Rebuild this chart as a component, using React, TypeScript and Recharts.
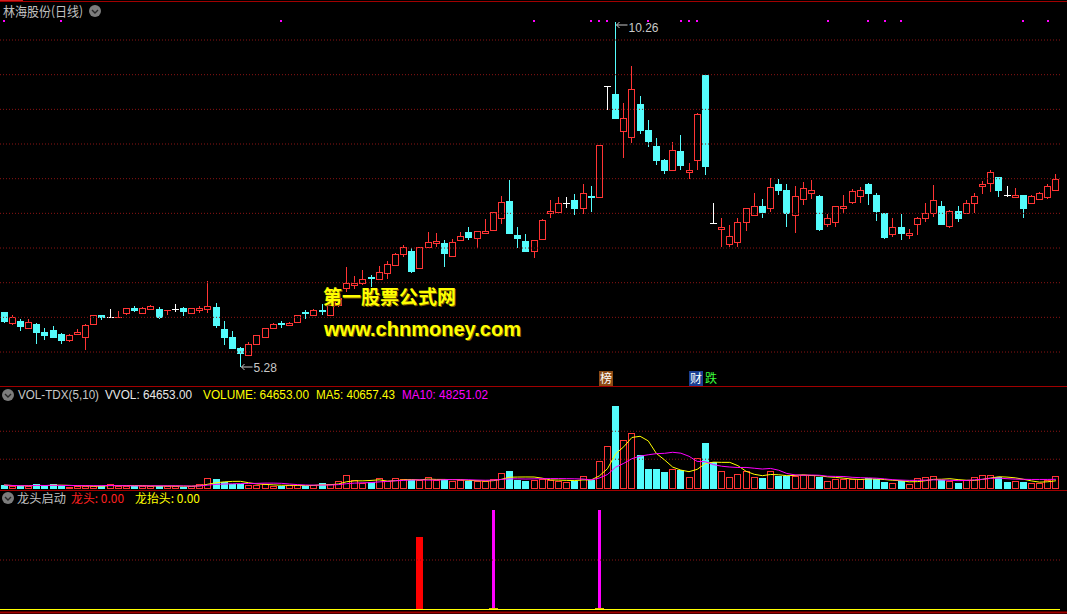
import React from "react";
import { ComposedChart, Bar, Line, XAxis, YAxis, ReferenceLine } from "recharts";

// 林海股份 日线: [open, high, low, close]
const OHLC: [number, number, number, number][] = [
  [6.08, 6.08, 5.92, 5.95], [5.92, 6.04, 5.89, 6.0], [5.95, 5.98, 5.81, 5.88], [5.84, 5.97, 5.83, 5.94],
  [5.91, 5.92, 5.61, 5.79], [5.79, 5.85, 5.68, 5.74], [5.82, 5.88, 5.71, 5.72], [5.76, 5.77, 5.62, 5.68],
  [5.68, 5.76, 5.65, 5.75], [5.76, 5.83, 5.75, 5.79], [5.72, 5.91, 5.53, 5.89], [5.91, 6.03, 5.91, 6.03],
  [6.03, 6.04, 5.96, 6.01], [6.01, 6.12, 6.01, 6.01], [6.0, 6.09, 6.0, 6.01], [6.07, 6.13, 6.04, 6.13],
  [6.14, 6.16, 6.08, 6.1], [6.07, 6.15, 6.07, 6.14], [6.12, 6.18, 6.11, 6.16], [6.12, 6.15, 5.97, 6.01],
  [6.1, 6.11, 6.04, 6.11], [6.12, 6.19, 6.08, 6.12], [6.13, 6.15, 6.02, 6.09], [6.07, 6.13, 6.07, 6.13],
  [6.1, 6.16, 6.07, 6.13], [6.12, 6.52, 6.07, 6.17], [6.15, 6.2, 5.85, 5.89], [5.83, 5.95, 5.6, 5.72],
  [5.72, 5.8, 5.54, 5.56], [5.56, 5.57, 5.28, 5.49], [5.45, 5.64, 5.45, 5.62], [5.62, 5.74, 5.6, 5.74],
  [5.71, 5.84, 5.71, 5.84], [5.84, 5.92, 5.84, 5.9], [5.92, 5.95, 5.85, 5.91], [5.89, 5.94, 5.88, 5.92],
  [5.94, 6.04, 5.94, 6.04], [6.08, 6.11, 5.98, 6.06], [6.04, 6.12, 6.02, 6.11], [6.11, 6.19, 6.04, 6.09],
  [6.04, 6.18, 6.04, 6.18], [6.18, 6.32, 6.15, 6.28], [6.42, 6.72, 6.37, 6.49], [6.46, 6.6, 6.41, 6.49],
  [6.49, 6.68, 6.47, 6.56], [6.58, 6.61, 6.44, 6.57], [6.56, 6.74, 6.54, 6.66], [6.64, 6.81, 6.56, 6.77],
  [6.75, 6.93, 6.74, 6.92], [6.92, 7.04, 6.87, 7.01], [6.96, 7.0, 6.64, 6.67], [6.71, 7.02, 6.7, 7.01],
  [7.02, 7.23, 7.01, 7.08], [7.07, 7.22, 7.02, 7.1], [7.07, 7.11, 6.72, 6.93], [6.89, 7.13, 6.88, 7.08],
  [7.11, 7.23, 7.1, 7.18], [7.23, 7.3, 7.12, 7.16], [7.15, 7.25, 7.0, 7.25], [7.22, 7.42, 7.2, 7.25],
  [7.26, 7.52, 7.25, 7.52], [7.44, 7.75, 7.34, 7.67], [7.68, 7.98, 7.2, 7.22], [7.19, 7.3, 7.0, 7.15],
  [7.1, 7.2, 6.95, 6.96], [6.95, 7.12, 6.85, 7.11], [7.13, 7.42, 7.13, 7.41], [7.51, 7.69, 7.44, 7.54],
  [7.52, 7.73, 7.52, 7.65], [7.65, 7.73, 7.58, 7.65], [7.69, 7.78, 7.47, 7.58], [7.57, 7.92, 7.49, 7.8],
  [7.75, 7.89, 7.52, 7.73], [7.74, 8.48, 7.73, 8.48], [9.33, 9.33, 8.99, 9.33], [9.22, 10.26, 8.87, 8.88],
  [8.69, 9.09, 8.3, 8.87], [8.6, 9.63, 8.52, 9.29], [9.08, 9.19, 8.64, 8.7], [8.7, 8.85, 8.45, 8.55],
  [8.47, 8.59, 8.2, 8.27], [8.27, 8.28, 8.07, 8.13], [8.12, 8.53, 8.11, 8.41], [8.4, 8.63, 8.13, 8.2],
  [8.09, 8.22, 8.0, 8.12], [8.27, 8.95, 8.13, 8.94], [9.5, 9.5, 8.05, 8.19], [7.36, 7.65, 7.36, 7.36],
  [7.28, 7.43, 7.02, 7.31], [7.06, 7.33, 7.01, 7.17], [7.08, 7.43, 7.01, 7.37], [7.37, 7.58, 7.24, 7.57],
  [7.48, 7.79, 7.47, 7.6], [7.6, 7.7, 7.43, 7.52], [7.58, 8.01, 7.52, 7.88], [7.93, 7.99, 7.77, 7.84],
  [7.83, 7.92, 7.31, 7.51], [7.47, 7.9, 7.22, 7.75], [7.7, 7.95, 7.62, 7.86], [7.8, 7.98, 7.7, 7.83],
  [7.75, 7.76, 7.25, 7.28], [7.34, 7.49, 7.3, 7.44], [7.38, 7.61, 7.3, 7.6], [7.57, 7.76, 7.51, 7.6],
  [7.67, 7.85, 7.63, 7.82], [7.75, 7.88, 7.65, 7.83], [7.93, 7.94, 7.62, 7.8], [7.76, 7.79, 7.39, 7.54],
  [7.5, 7.51, 7.13, 7.16], [7.2, 7.43, 7.16, 7.3], [7.3, 7.49, 7.12, 7.22], [7.19, 7.28, 7.13, 7.22],
  [7.34, 7.45, 7.19, 7.44], [7.44, 7.65, 7.38, 7.5], [7.5, 7.91, 7.45, 7.69], [7.6, 7.68, 7.34, 7.35],
  [7.32, 7.55, 7.29, 7.54], [7.54, 7.61, 7.38, 7.44], [7.5, 7.69, 7.49, 7.65], [7.65, 7.79, 7.5, 7.75],
  [7.89, 7.96, 7.78, 7.93], [7.94, 8.12, 7.81, 8.09], [8.02, 8.03, 7.73, 7.83], [7.76, 7.89, 7.74, 7.76],
  [7.73, 7.86, 7.72, 7.76], [7.76, 7.77, 7.44, 7.58], [7.65, 7.77, 7.64, 7.75], [7.7, 7.81, 7.69, 7.79],
  [7.73, 7.92, 7.7, 7.89], [7.83, 8.07, 7.82, 7.99],
];

const VOLUME = [
  19900, 14900, 14900, 14900, 24900, 14900, 24900, 14900, 11400, 14900,
  14900, 14900, 14900, 24900, 14900, 14900, 14900, 14900, 14900, 14900,
  14900, 14900, 9900, 14900, 24900, 54700, 49700, 33300, 26400, 26400,
  19900, 19900, 22400, 14900, 14900, 19900, 19900, 14900, 19900, 28400,
  23400, 38300, 69600, 43300, 28400, 33300, 53200, 38300, 53200, 48200,
  43300, 43300, 58200, 44800, 48200, 38300, 43300, 38300, 38300, 38300,
  48200, 78100, 89500, 43300, 39800, 47200, 49700, 46300, 38300, 33300,
  41300, 66100, 46300, 137800, 212400, 411300, 242200, 277000, 167600, 98000,
  98000, 83100, 98000, 93000, 58200, 155700, 227300, 132800, 88000, 58200,
  73100, 88000, 58200, 53200, 88000, 66100, 66100, 63700, 69600, 69600,
  59700, 39800, 49700, 49700, 48200, 48200, 53200, 49700, 34800, 29800,
  39800, 24900, 53200, 58200, 63200, 43300, 38300, 29800, 43300, 58200,
  70000, 72000, 61200, 34800, 39800, 35000, 30000, 29800, 44800, 64653,
];

// magenta signal dots along the top
const DOT_SIGNALS = [0, 7, 34, 65, 72, 73, 74, 79, 83, 84, 85, 101, 106, 108, 110, 125, 128];
const FLAGS = [
  { i: 73, marks: ["榜"] },
  { i: 84, marks: ["财", "跌"] },
];
// 龙头启动 indicator
const LONGTOU = [{ i: 51, v: 0.73 }];
const TAITOU = [{ i: 60, v: 1 }, { i: 73, v: 1 }];

const PRICE_TICKS = [5.5, 6, 6.5, 7, 7.5, 8, 8.5, 9, 9.5, 10];
const VOL_TICKS = [148000, 287000];
const IND_TICKS = [0.5];

const RED = "#ff3434";
const CYAN = "#54fcfc";
const GRID = "#8c1414";
const LINE = "#a00000";
const CJK = '"Noto Sans CJK SC", sans-serif';
const LAT = '"Liberation Sans", Arial, sans-serif';
const DOT_LEVEL = 10.28;
const FLAG_LEVEL = 5.125;
const FLAG_STYLE: Record<string, { bg: string; fg: string }> = {
  榜: { bg: "#8c4a14", fg: "#ffffff" },
  财: { bg: "#1b3f92", fg: "#ffffff" },
  跌: { bg: "#000000", fg: "#3cff3c" },
};

const avg = (arr: number[], i: number, n: number) => {
  const s = Math.max(0, i - n + 1);
  let t = 0;
  for (let k = s; k <= i; k++) t += arr[k];
  return t / (i - s + 1);
};

const MAX_H = Math.max(...OHLC.map((r) => r[1]));
const MIN_L = Math.min(...OHLC.map((r) => r[2]));

const rows = OHLC.map(([o, h, l, c], i) => {
  const prevC = i > 0 ? OHLC[i - 1][3] : o;
  const flag = FLAGS.find((f) => f.i === i);
  return {
    i,
    o,
    h,
    l,
    c,
    range: [l, h],
    vol: VOLUME[i],
    ma5: avg(VOLUME, i, 5),
    ma10: avg(VOLUME, i, 10),
    up: c > o || (c === o && c >= prevC),
    dot: DOT_SIGNALS.includes(i) ? DOT_LEVEL : null,
    flagLevel: flag ? FLAG_LEVEL : null,
    marks: flag ? flag.marks : null,
    lt: LONGTOU.find((d) => d.i === i)?.v ?? 0,
    tt: TAITOU.find((d) => d.i === i)?.v ?? 0,
  };
});

function Candle(props: any) {
  const { x, y, width, height, payload } = props;
  if (payload == null || x == null || y == null) return <g />;
  const top = Math.min(y, y + height);
  const span = Math.abs(height);
  const { o, h, l, c } = payload;
  const k = h > l ? span / (h - l) : 0;
  const py = (v: number) => top + (h - v) * k;
  const bx = Math.round(x);
  const bw = Math.round(width);
  const cx = bx + Math.floor(bw / 2) + 0.5;
  const yh = Math.round(top);
  const yl = Math.round(top + span);
  const t = Math.round(py(Math.max(o, c)));
  const b = Math.round(py(Math.min(o, c)));
  const color = c > o ? RED : c < o ? CYAN : "#ffffff";
  let body;
  if (c > o && b - t >= 2) {
    body = (
      <g>
        <line x1={cx} x2={cx} y1={yh} y2={t} stroke={color} />
        <line x1={cx} x2={cx} y1={b} y2={yl} stroke={color} />
        <rect x={bx + 0.5} y={t + 0.5} width={bw - 1} height={b - t} fill="#000" stroke={color} />
      </g>
    );
  } else if (c < o && b - t >= 1) {
    body = (
      <g>
        <line x1={cx} x2={cx} y1={yh} y2={yl} stroke={color} />
        <rect x={bx} y={t} width={bw} height={b - t + 1} fill={color} />
      </g>
    );
  } else {
    body = (
      <g>
        <line x1={cx} x2={cx} y1={yh} y2={yl} stroke={color} />
        <line x1={bx} x2={bx + bw} y1={t + 0.5} y2={t + 0.5} stroke={color} />
      </g>
    );
  }
  return (
    <g>
      {body}
      {h === MAX_H && (
        <g>
          <path d={`M${cx + 1} ${yh + 3}L${cx + 12} ${yh + 3}M${cx + 1} ${yh + 3}L${cx + 4} ${yh}M${cx + 1} ${yh + 3}L${cx + 4} ${yh + 6}`} stroke="#c8c8c8" fill="none" />
          <text x={cx + 13} y={yh + 10} fontSize={12} fill="#c8c8c8" fontFamily={LAT}>{h.toFixed(2)}</text>
        </g>
      )}
      {l === MIN_L && (
        <g>
          <path d={`M${cx + 1} ${yl}L${cx + 12} ${yl}M${cx + 1} ${yl}L${cx + 4} ${yl - 3}M${cx + 1} ${yl}L${cx + 4} ${yl + 3}`} stroke="#c8c8c8" fill="none" />
          <text x={cx + 13} y={yl + 5} fontSize={12} fill="#c8c8c8" fontFamily={LAT}>{l.toFixed(2)}</text>
        </g>
      )}
    </g>
  );
}

function VolBar(props: any) {
  const { x, y, width, height, payload } = props;
  if (!payload || !height) return <g />;
  const bx = Math.round(x);
  const bw = Math.round(width);
  const t = Math.round(y);
  const b = Math.round(y + height);
  if (payload.up)
    return <rect x={bx + 0.5} y={t + 0.5} width={bw - 1} height={Math.max(1, b - t - 1)} fill="none" stroke={RED} />;
  return <rect x={bx} y={t} width={bw} height={b - t} fill={CYAN} />;
}

function LtBar(props: any) {
  const { x, y, width, height } = props;
  if (!height || height <= 0) return <g />;
  return <rect x={Math.round(x)} y={Math.round(y)} width={Math.round(width)} height={Math.round(height)} fill="#ff0000" />;
}

function TtBar(props: any) {
  const { x, y, width, height } = props;
  if (!height || height <= 0) return <g />;
  const cx = Math.round(x) + Math.floor(Math.round(width) / 2);
  return (
    <g>
      <rect x={cx - 1} y={Math.round(y)} width={3} height={Math.round(height)} fill="#ff00ff" />
      <rect x={cx - 4} y={Math.round(y + height) - 2} width={9} height={2} fill="#e8c000" />
    </g>
  );
}

function SignalDot(props: any) {
  const { cx, cy, payload, index } = props;
  if (cy == null || payload?.dot == null) return <g key={`d${index}`} />;
  return <rect key={`d${index}`} x={Math.round(cx) - 1} y={Math.round(cy) - 1} width={2} height={2} fill="#ff00ff" />;
}

function FlagDot(props: any) {
  const { cx, cy, payload, index } = props;
  if (cy == null || !payload?.marks) return <g key={`f${index}`} />;
  const x0 = Math.round(cx);
  const y0 = Math.round(cy) - 7;
  return (
    <g key={`f${index}`}>
      {payload.marks.map((m: string, j: number) => (
        <g key={m}>
          <rect x={x0 + j * 15} y={y0} width={14} height={15} fill={FLAG_STYLE[m].bg} />
          <text x={x0 + j * 15 + 7} y={y0 + 12} fontSize={12} textAnchor="middle" fill={FLAG_STYLE[m].fg} fontFamily={CJK}>{m}</text>
        </g>
      ))}
    </g>
  );
}

function Chevron({ cx, cy }: { cx: number; cy: number }) {
  return (
    <g>
      <circle cx={cx} cy={cy} r={6} fill="#7c7c7c" />
      <path d={`M${cx - 3} ${cy - 1}L${cx} ${cy + 2}L${cx + 3} ${cy - 1}`} stroke="#262626" strokeWidth={1.4} fill="none" />
    </g>
  );
}

const margin = { top: 0, right: 7, bottom: 0, left: 0 };

export default function App() {
  return (
    <div style={{ position: "relative", width: 1067, height: 614, background: "#000", overflow: "hidden" }}>
      <style>{"body{margin:0;background:#000}"}</style>

      <div style={{ position: "absolute", left: 0, top: 0 }}>
        <ComposedChart width={1067} height={386} data={rows} margin={margin} barCategoryGap={0.6}>
          <XAxis dataKey="i" hide />
          <YAxis hide domain={[5.01, 10.577]} allowDataOverflow />
          {PRICE_TICKS.map((v) => (
            <ReferenceLine key={v} y={v} stroke={GRID} strokeDasharray="1 2" />
          ))}
          <Bar dataKey="range" shape={(p: any) => <Candle {...p} />} isAnimationActive={false} />
          <Line dataKey="dot" stroke="none" dot={(p: any) => <SignalDot {...p} />} activeDot={false} isAnimationActive={false} />
          <Line dataKey="flagLevel" stroke="none" dot={(p: any) => <FlagDot {...p} />} activeDot={false} isAnimationActive={false} />
        </ComposedChart>
      </div>

      <div style={{ position: "absolute", left: 0, top: 388 }}>
        <ComposedChart width={1067} height={101} data={rows} margin={margin} barCategoryGap={0.6}>
          <XAxis dataKey="i" hide />
          <YAxis hide domain={[0, 502000]} allowDataOverflow />
          {VOL_TICKS.map((v) => (
            <ReferenceLine key={v} y={v} stroke={GRID} strokeDasharray="1 2" />
          ))}
          <Bar dataKey="vol" shape={(p: any) => <VolBar {...p} />} isAnimationActive={false} />
          <Line dataKey="ma5" type="linear" stroke="#ffff00" dot={false} activeDot={false} isAnimationActive={false} />
          <Line dataKey="ma10" type="linear" stroke="#ff00ff" dot={false} activeDot={false} isAnimationActive={false} />
        </ComposedChart>
      </div>

      <div style={{ position: "absolute", left: 0, top: 500 }}>
        <ComposedChart width={1067} height={110} data={rows} margin={margin} barCategoryGap={0.6}>
          <XAxis dataKey="i" hide />
          <YAxis hide domain={[0, 1.1]} allowDataOverflow />
          {IND_TICKS.map((v) => (
            <ReferenceLine key={v} y={v} stroke={GRID} strokeDasharray="1 2" />
          ))}
          <ReferenceLine y={0} stroke="#ffff00" strokeWidth={2} />
          <Bar dataKey="lt" stackId="s" shape={(p: any) => <LtBar {...p} />} isAnimationActive={false} />
          <Bar dataKey="tt" stackId="s" shape={(p: any) => <TtBar {...p} />} isAnimationActive={false} />
        </ComposedChart>
      </div>

      <svg width={1067} height={614} style={{ position: "absolute", left: 0, top: 0, pointerEvents: "none" }}>
        <line x1={0} x2={1067} y1={1.5} y2={1.5} stroke={LINE} />
        <line x1={0} x2={23} y1={0.5} y2={0.5} stroke="#d02020" />
        <line x1={0} x2={1067} y1={386.5} y2={386.5} stroke={LINE} />
        <line x1={0} x2={1067} y1={490.5} y2={490.5} stroke={LINE} />
        <line x1={0} x2={1067} y1={612.5} y2={612.5} stroke={LINE} strokeWidth={2} />

        <text x={3} y={16} fontSize={13} fill="#c0c0c0" fontFamily={CJK} textLength={80} lengthAdjust="spacingAndGlyphs">林海股份(日线)</text>
        <Chevron cx={95} cy={11} />

        <Chevron cx={8} cy={395} />
        <g fontSize={12} fontFamily={LAT}>
          <text x={18} y={399} fill="#c8c8c8" textLength={81} lengthAdjust="spacingAndGlyphs">VOL-TDX(5,10)</text>
          <text x={105} y={399} fill="#e8e8e8" textLength={87} lengthAdjust="spacingAndGlyphs">VVOL: 64653.00</text>
          <text x={203} y={399} fill="#ffff00" textLength={106} lengthAdjust="spacingAndGlyphs">VOLUME: 64653.00</text>
          <text x={316} y={399} fill="#ffff00" textLength={79} lengthAdjust="spacingAndGlyphs">MA5: 40657.43</text>
          <text x={402} y={399} fill="#ff00ff" textLength={86} lengthAdjust="spacingAndGlyphs">MA10: 48251.02</text>
        </g>

        <Chevron cx={8} cy={498} />
        <g fontSize={12} fontFamily={CJK}>
          <text x={17} y={503} fill="#c0c0c0" textLength={49} lengthAdjust="spacingAndGlyphs">龙头启动</text>
          <text x={71} y={503} fill="#ff2020" textLength={53} lengthAdjust="spacingAndGlyphs">龙头: 0.00</text>
          <text x={135} y={503} fill="#ffff00" textLength={65} lengthAdjust="spacingAndGlyphs">龙抬头: 0.00</text>
        </g>

        <g fontWeight="bold">
          <text x={324} y={305} fontSize={19} fill="#7a5a00" fontFamily={CJK} textLength={133} lengthAdjust="spacingAndGlyphs">第一股票公式网</text>
          <text x={323} y={304} fontSize={19} fill="#ffff00" fontFamily={CJK} textLength={133} lengthAdjust="spacingAndGlyphs">第一股票公式网</text>
          <text x={325} y={337} fontSize={20} fill="#7a5a00" fontFamily={LAT} textLength={197} lengthAdjust="spacingAndGlyphs">www.chnmoney.com</text>
          <text x={324} y={336} fontSize={20} fill="#ffff00" fontFamily={LAT} textLength={197} lengthAdjust="spacingAndGlyphs">www.chnmoney.com</text>
        </g>
      </svg>
    </div>
  );
}
